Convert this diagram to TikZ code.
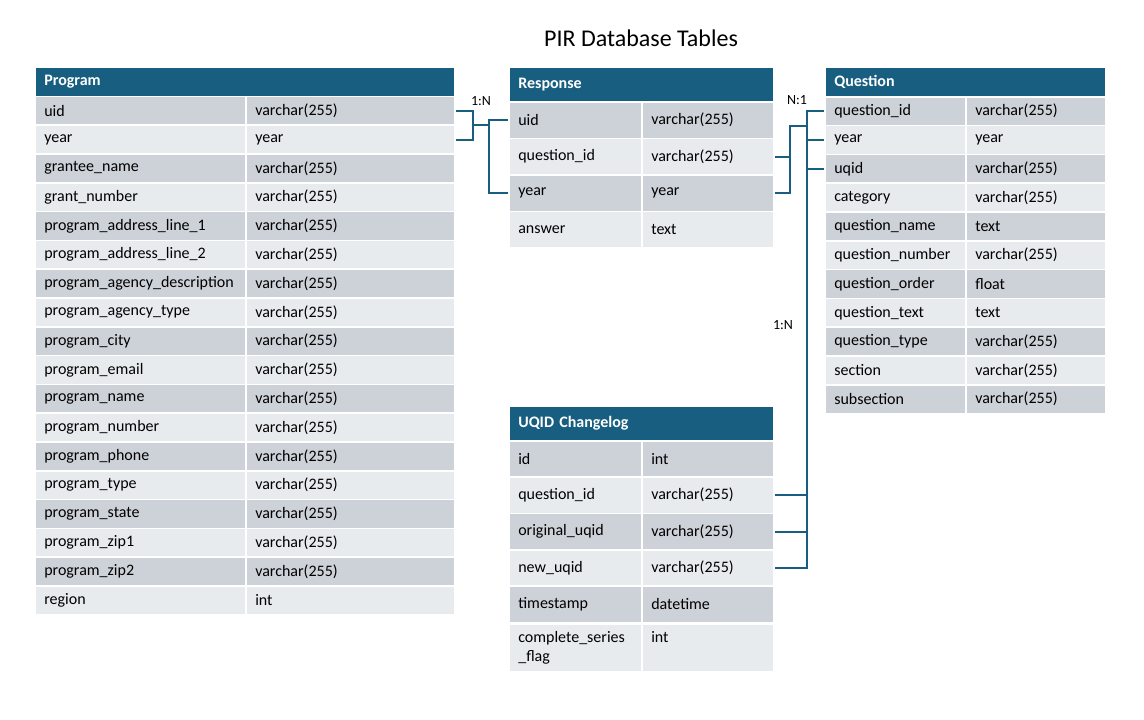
\documentclass[tikz,border=0pt]{standalone}
\usepackage{fontspec}
\setmainfont{Carlito}
\usetikzlibrary{positioning,calc}
\definecolor{hdr}{HTML}{175E80}
\definecolor{rowdark}{HTML}{CDD1D8}
\definecolor{rowlight}{HTML}{E8EBEE}

\begin{document}
\begin{tikzpicture}[x=1pt,y=-1pt,
  cell/.style={rectangle,draw=white,line width=1.6pt,anchor=north west,inner xsep=9.5pt,inner ysep=0pt,align=left,font=\fontsize{16}{19}\selectfont},
  head/.style={cell,fill=hdr,text=white,font=\fontsize{16}{19}\selectfont\bfseries},
  link/.style={draw=hdr,line width=2pt},
  card/.style={font=\fontsize{14}{16}\selectfont}]
\useasboundingbox (0,0) rectangle (1144,720);
\node[font=\fontsize{24}{28}\selectfont] (title) at (641,38) {PIR Database Tables};
% Program
\node[head,text width=401pt,minimum height=29pt] (prog) at (34,66.5) {Program};
\foreach \nm/\ty [count=\i] in {uid/varchar(255),year/year,grantee\_name/varchar(255),grant\_number/varchar(255),
  program\_address\_line\_1/varchar(255),program\_address\_line\_2/varchar(255),program\_agency\_description/varchar(255),
  program\_agency\_type/varchar(255),program\_city/varchar(255),program\_email/varchar(255),program\_name/varchar(255),
  program\_number/varchar(255),program\_phone/varchar(255),program\_type/varchar(255),program\_state/varchar(255),
  program\_zip1/varchar(255),program\_zip2/varchar(255),region/int}{
  \ifodd\i\def\rc{rowdark}\else\def\rc{rowlight}\fi
  \node[cell,fill=\rc,text width=192pt,minimum height=28.8pt] (pn\i) at (34,{95.5+(\i-1)*28.8}) {\nm};
  \node[cell,fill=\rc,text width=190pt,minimum height=28.8pt] (pt\i) at (245,{95.5+(\i-1)*28.8}) {\ty};
}
% Response
\node[head,text width=246pt,minimum height=34.5pt] (resp) at (508,66.5) {Response};
\foreach \nm/\ty [count=\i] in {uid/varchar(255),question\_id/varchar(255),year/year,answer/text}{
  \ifodd\i\def\rc{rowdark}\else\def\rc{rowlight}\fi
  \node[cell,fill=\rc,text width=114pt,minimum height=36.5pt] (rn\i) at (508,{101+(\i-1)*36.5}) {\nm};
  \node[cell,fill=\rc,text width=113pt,minimum height=36.5pt] (rt\i) at (641,{101+(\i-1)*36.5}) {\ty};
}
% Question
\node[head,text width=262pt,minimum height=29.5pt] (ques) at (824,66.5) {Question};
\foreach \nm/\ty [count=\i] in {question\_id/varchar(255),year/year,uqid/varchar(255),category/varchar(255),
  question\_name/text,question\_number/varchar(255),question\_order/float,question\_text/text,
  question\_type/varchar(255),section/varchar(255),subsection/varchar(255)}{
  \ifodd\i\def\rc{rowdark}\else\def\rc{rowlight}\fi
  \node[cell,fill=\rc,text width=122pt,minimum height=28.8pt] (qn\i) at (824,{96+(\i-1)*28.8}) {\nm};
  \node[cell,fill=\rc,text width=121pt,minimum height=28.8pt] (qt\i) at (965,{96+(\i-1)*28.8}) {\ty};
}
% UQID Changelog
\node[head,text width=246pt,minimum height=34.5pt] (uqid) at (508,405.5) {UQID Changelog};
\foreach \nm/\ty [count=\i] in {id/int,question\_id/varchar(255),original\_uqid/varchar(255),new\_uqid/varchar(255),timestamp/datetime}{
  \ifodd\i\def\rc{rowdark}\else\def\rc{rowlight}\fi
  \node[cell,fill=\rc,text width=114pt,minimum height=36.3pt] (un\i) at (508,{440+(\i-1)*36.3}) {\nm};
  \node[cell,fill=\rc,text width=113pt,minimum height=36.3pt] (ut\i) at (641,{440+(\i-1)*36.3}) {\ty};
}
\node[cell,fill=rowlight,text width=114pt,minimum height=48pt] (un6) at (508,623) {\strut complete\_series\\\strut\_flag};
\node[cell,fill=rowlight,text width=113pt,minimum height=48pt] (ut6) at (641,623) {\strut int\\\strut};
% Program -> Response (1:N)
\draw[link] (pt1.east) -- ++(17,0) |- (pt2.east);
\coordinate (pj) at ($(pt1.east)!.5!(pt2.east)+(17,0)$);
\coordinate (rb) at ($(rn1.west)+(-19,0)$);
\draw[link] (rn1.west) -- (rb) |- (rn3.west);
\draw[link] (pj) -- (pj -| rb);
\node[card] (c1) at (481,101) {1:N};
% Response -> Question (N:1), Changelog -> Question (1:N)
\coordinate (qb) at ($(qn1.west)+(-17,0)$);
\coordinate (nb) at ($(qn1.west)!.5!(qn2.west)+(-34,0)$);
\draw[link] (rt3.east) -| (nb) -- (nb -| qb);
\draw[link] (rt2.east) -- (rt2.east -| nb);
\draw[link] (qn1.west) -- (qb) |- (ut4.east);
\foreach \j in {2,3} \draw[link] (qn\j.west) -- (qn\j.west -| qb);
\foreach \j in {2,3} \draw[link] (ut\j.east) -- (ut\j.east -| qb);
\node[card] (c2) at (797,100) {N:1};
\node[card] (c3) at (783,325) {1:N};
\end{tikzpicture}
\end{document}
